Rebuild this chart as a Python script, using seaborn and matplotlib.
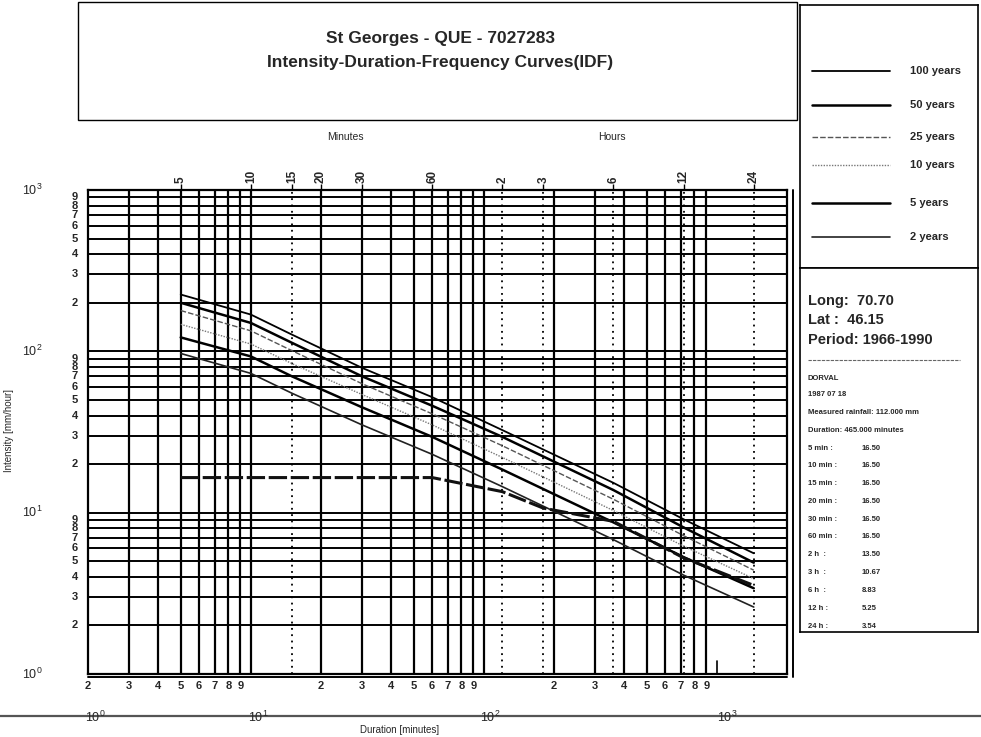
import matplotlib
matplotlib.use("Agg")
import numpy as np
import pandas as pd
import matplotlib.pyplot as plt
import seaborn as sns
import matplotlib.transforms as mtransforms
from matplotlib.lines import Line2D
from matplotlib.patches import Rectangle
from matplotlib.ticker import NullLocator
from matplotlib import font_manager as fm

# ---------------- data ----------------
station_title = "St Georges - QUE - 7027283"
chart_title = "Intensity-Duration-Frequency Curves(IDF)"

durations_min = [5, 10, 15, 30, 60, 120, 360, 720, 1440]
idf_100 = [225, 169, 127, 79, 52, 32.5, 15.3, 9.1, 5.6]
idf_50 = [200, 150, 113, 70, 46, 29.5, 13.8, 8.1, 4.9]
idf_25 = [179, 134, 101, 63, 41, 26.0, 12.1, 7.2, 4.4]
idf_10 = [147, 111, 84, 54, 35, 22.0, 10.3, 6.2, 3.9]
idf_5 = [122, 93, 70, 45, 29.5, 18.5, 8.7, 5.3, 3.4]
idf_2 = [97, 73, 55, 35, 23, 14.5, 6.8, 4.1, 2.6]
return_periods = ["100 years", "50 years", "25 years", "10 years", "5 years", "2 years"]

obs_durations = [5, 10, 15, 20, 30, 60, 120, 180, 360, 720, 1440]
obs_intensity = [16.50, 16.50, 16.50, 16.50, 16.50, 16.50, 13.50, 10.67, 8.83, 5.25, 3.54]
obs_labels = ["5 min :", "10 min :", "15 min :", "20 min :", "30 min :", "60 min :",
              "2 h  :", "3 h  :", "6 h  :", "12 h :", "24 h :"]

top_tick_minutes = [5, 10, 15, 20, 30, 60, 120, 180, 360, 720, 1440]
top_tick_labels = ["5", "10", "15", "20", "30", "60", "2", "3", "6", "12", "24"]
dotted_minutes = [15, 120, 180, 360, 720, 1440]

info_lines = ["Long:  70.70", "Lat :  46.15", "Period: 1966-1990"]
event_lines = ["DORVAL", "1987 07 18", "Measured rainfall: 112.000 mm",
               "Duration: 465.000 minutes"]

# ---------------- styles ----------------
styles = {
    "100 years": dict(color="black", lw=1.3, ls="-"),
    "50 years": dict(color="black", lw=1.8, ls="-"),
    "25 years": dict(color="#555555", lw=1.0, ls=(0, (4, 1.5))),
    "10 years": dict(color="#777777", lw=1.0, ls=(0, (1, 1))),
    "5 years": dict(color="black", lw=1.8, ls="-"),
    "2 years": dict(color="#222222", lw=1.2, ls="-"),
}

sns.set_theme(style="white")
plt.rcParams['font.family'] = ['Liberation Sans', 'DejaVu Sans']
plt.rcParams['mathtext.fontset'] = 'custom'
plt.rcParams['mathtext.rm'] = 'Liberation Sans'

names = {f.name for f in fm.fontManager.ttflist}
title_family = ['Liberation Sans Narrow', 'Liberation Sans'] if 'Liberation Sans Narrow' in names else ['Liberation Sans']
title_size = 14 if 'Liberation Sans Narrow' in names else 12.5

W, H = 981, 737
fig = plt.figure(figsize=(W / 100, H / 100), dpi=100)
fig.patch.set_facecolor("white")


def fx(px):
    return px / W


def fy(py):
    return 1 - py / H


# ---------------- main axes ----------------
L, R, T, B = 88, 787, 190, 674
ax = fig.add_axes([fx(L), fy(B), (R - L) / W, (B - T) / H])
ax.set_xscale('log')
ax.set_yscale('log')
ax.set_xlim(2, 2000)
ax.set_ylim(1, 1000)
ax.set_facecolor("white")

# grid
for k in range(3):
    for m in range(1, 10):
        v = m * 10 ** k
        if 2 < v < 1000:
            ax.axvline(v, color="black", lw=1.6, zorder=1)
        if 1 < v < 1000:
            ax.axhline(v, color="black", lw=1.4, zorder=1)
for d in dotted_minutes:
    ax.axvline(d, color="black", lw=1.3, ls=(0, (1, 2.5)), zorder=1)
# small tick at 1000
ax.plot([1000, 1000], [1, 1.2], color="black", lw=1.2, zorder=1)

for s in ax.spines.values():
    s.set_visible(True)
    s.set_color("black")
    s.set_linewidth(1.6)
ax.plot([0, 1], [-0.007, -0.007], transform=ax.transAxes, color="black", lw=1.4, clip_on=False)
ax.plot([1.009, 1.009], [-0.007, 1.0], transform=ax.transAxes, color="black", lw=1.4, clip_on=False)
ax.tick_params(which='both', bottom=False, left=False, top=False, right=False,
               labelbottom=False, labelleft=False)

# IDF curves
series = {"100 years": idf_100, "50 years": idf_50, "25 years": idf_25,
          "10 years": idf_10, "5 years": idf_5, "2 years": idf_2}
df = pd.DataFrame([(rp, d, v) for rp, vals in series.items() for d, v in zip(durations_min, vals)],
                  columns=["period", "duration", "intensity"])
for rp in return_periods:
    sub = df[df.period == rp]
    st = styles[rp]
    sns.lineplot(data=sub, x="duration", y="intensity", ax=ax, color=st["color"],
                 linewidth=st["lw"], linestyle=st["ls"], zorder=3, legend=False)

obs_df = pd.DataFrame({"duration": obs_durations, "intensity": obs_intensity})
sns.lineplot(data=obs_df, x="duration", y="intensity", ax=ax, color="#111111",
             linewidth=2.2, linestyle=(0, (6, 1.2)), zorder=4, legend=False)
ax.set_xlabel("")
ax.set_ylabel("")

# top axis (minutes / hours)
sec = ax.secondary_xaxis('top')
sec.set_xticks(top_tick_minutes, labels=top_tick_labels)
sec.xaxis.set_minor_locator(NullLocator())
sec.tick_params(axis='x', length=4, width=1, pad=1, labelsize=8.5, labelrotation=90, color="black")
for lab in sec.get_xticklabels():
    lab.set_fontweight("bold")
sec.spines['top'].set_visible(False)
fig.text(fx(345), fy(137), "Minutes", ha="center", va="center", fontsize=7.5)
fig.text(fx(612), fy(137), "Hours", ha="center", va="center", fontsize=7.5)

# y labels
ytr = mtransforms.blended_transform_factory(fig.transFigure, ax.transData)
for k in range(4):
    ax.text(fx(32), 10 ** k, r"$\mathregular{10^{%d}}$" % k, transform=ytr,
            ha="center", va="center", fontsize=9, clip_on=False)
for k in range(3):
    for m in range(2, 10):
        ax.text(fx(75), m * 10 ** k, str(m), transform=ytr, ha="center", va="center",
                fontsize=8, fontweight="bold", clip_on=False)
fig.text(fx(9), fy(430), "Intensity [mm/hour]", rotation=90, ha="center", va="center", fontsize=7)

# x labels
xtr = mtransforms.blended_transform_factory(ax.transData, fig.transFigure)
for k in range(3):
    for m in range(2, 10):
        ax.text(m * 10 ** k, fy(686), str(m), transform=xtr, ha="center", va="center",
                fontsize=8, fontweight="bold", clip_on=False)
fig.add_artist(Line2D([0, 1], [fy(716), fy(716)], color="#555555", lw=1.6))
for k, px in zip(range(4), [95, 258, 490, 727]):
    fig.text(fx(px), fy(717), r"$\mathregular{10^{%d}}$" % k, ha="center", va="center", fontsize=9)
fig.text(fx(400), fy(730), "Duration [minutes]", ha="center", va="center", fontsize=7)

# ---------------- title box ----------------
fig.add_artist(Rectangle((fx(78), fy(120)), (797 - 78) / W, (120 - 2) / H,
                         transform=fig.transFigure, fill=False, edgecolor="black", lw=1.0))
fig.text(fx(440), fy(38), station_title, ha="center", va="center", fontsize=title_size,
         family=title_family, fontweight="bold")
fig.text(fx(440), fy(62), chart_title, ha="center", va="center", fontsize=title_size,
         family=title_family, fontweight="bold")

# ---------------- legend panel ----------------
lg = fig.add_axes([fx(800), fy(268), (978 - 800) / W, (268 - 5) / H])
lg.set_xlim(800, 978)
lg.set_ylim(268, 5)
lg.set_xticks([])
lg.set_yticks([])
for s in lg.spines.values():
    s.set_visible(True)
    s.set_color("black")
    s.set_linewidth(1.2)
legend_y = [71, 105, 137, 165, 203, 237]
for rp, yy in zip(return_periods, legend_y):
    st = styles[rp]
    lg.plot([812, 890], [yy, yy], color=st["color"], lw=st["lw"], ls=st["ls"])
    lg.text(910, yy, rp, ha="left", va="center", fontsize=8, fontweight="bold")

# ---------------- info panel ----------------
ia = fig.add_axes([fx(800), fy(632), (978 - 800) / W, (632 - 268) / H])
ia.set_xlim(800, 978)
ia.set_ylim(632, 268)
ia.set_xticks([])
ia.set_yticks([])
for s in ia.spines.values():
    s.set_visible(True)
    s.set_color("black")
    s.set_linewidth(1.2)
for txt, yy in zip(info_lines, [301, 320, 340]):
    ia.text(808, yy, txt, ha="left", va="center", fontsize=10.5, fontweight="bold")
ia.plot([808, 960], [360, 360], color="#666666", lw=0.8, ls=(0, (3, 1)))
for txt, yy in zip(event_lines, [378, 394, 412, 430]):
    ia.text(808, yy, txt, ha="left", va="center", fontsize=5.5, fontweight="bold")
for i, (lab, val) in enumerate(zip(obs_labels, obs_intensity)):
    yy = 448 + i * 17.8
    ia.text(808, yy, lab, ha="left", va="center", fontsize=5.5, fontweight="bold")
    ia.text(862, yy, "%.2f" % val, ha="left", va="center", fontsize=5.5, fontweight="bold")

fig.savefig("out.png", dpi=100, facecolor="white")
